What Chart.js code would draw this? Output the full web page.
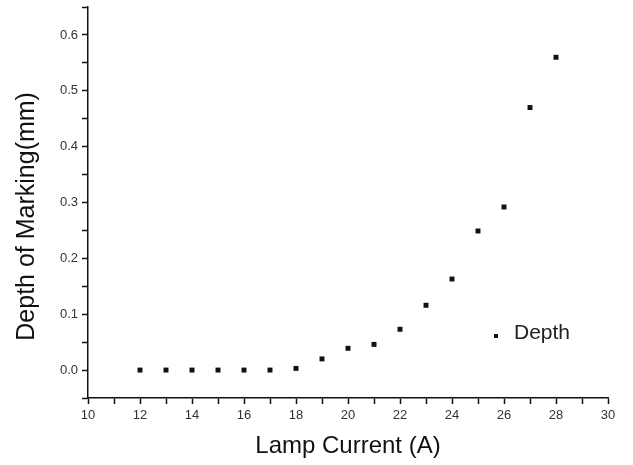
<!DOCTYPE html>
<html>
<head>
<meta charset="utf-8">
<script src="https://cdn.jsdelivr.net/npm/chart.js@4.4.1/dist/chart.umd.min.js"></script>
<style>
  html, body { margin: 0; padding: 0; background: #fff; }
  #wrap { width: 633px; height: 465px; position: relative; }
</style>
</head>
<body>
<div id="wrap"><canvas id="depthChart"></canvas></div>
<script>
// Data
const lampCurrent = [12, 13, 14, 15, 16, 17, 18, 19, 20, 21, 22, 23, 24, 25, 26, 27, 28];
const depth = [0, 0, 0, 0, 0, 0, 0.003, 0.02, 0.039, 0.046, 0.073, 0.116, 0.163, 0.249, 0.292, 0.47, 0.56];
const seriesLabel = 'Depth';
const xTitle = 'Lamp Current (A)';
// trailing spaces nudge the rotated title down a little, like the original
const yTitle = 'Depth of Marking(mm)    ';

const FONT = '"Liberation Sans", Arial, sans-serif';

// Legend box sits inside the plot, lower right
const insideLegend = {
    id: 'insideLegend',
    afterDatasetsDraw(chart) {
        const ctx = chart.ctx;
        const area = chart.chartArea;
        const x = area.left + 408;
        const y = area.top + 329;
        ctx.save();
        ctx.fillStyle = '#111';
        ctx.fillRect(x - 2, y - 2, 4, 4);
        ctx.font = '21px ' + FONT;
        ctx.textBaseline = 'middle';
        ctx.fillStyle = '#222';
        ctx.fillText(chart.data.datasets[0].label, x + 18, y - 3);
        ctx.restore();
    }
};

(function() {
    const ctx = document.getElementById('depthChart').getContext('2d');
    new Chart(ctx, {
        type: 'scatter',
        data: {
            datasets: [{
                label: seriesLabel,
                data: lampCurrent.map((c, i) => ({ x: c, y: depth[i] })),
                pointStyle: 'rect',
                pointRadius: 3.5,
                backgroundColor: '#111',
                borderColor: '#111',
                borderWidth: 0
            }]
        },
        options: {
            responsive: true,
            maintainAspectRatio: false,
            animation: false,
            layout: { padding: { left: 0, top: 7, right: 25, bottom: 0 } },
            plugins: {
                legend: { display: false },
                tooltip: { enabled: false }
            },
            scales: {
                x: {
                    type: 'linear',
                    min: 10,
                    max: 30,
                    afterFit: scale => { scale.height = 67; },
                    ticks: {
                        stepSize: 1,
                        autoSkip: false,
                        maxRotation: 0,
                        padding: 4,
                        color: '#333',
                        font: { family: FONT, size: 13 },
                        callback: v => (v % 2 === 0 ? String(v) : '')
                    },
                    grid: {
                        drawOnChartArea: false,
                        drawTicks: true,
                        tickLength: 6,
                        tickWidth: 1.5,
                        tickColor: '#111'
                    },
                    border: { display: true, color: '#111', width: 1.5 },
                    title: {
                        display: true,
                        text: xTitle,
                        color: '#111',
                        font: { family: FONT, size: 24 },
                        padding: { top: 4, bottom: 4 }
                    }
                },
                y: {
                    min: -0.05,
                    max: 0.65,
                    afterFit: scale => {
                        scale.width = 88;
                        scale.paddingTop = 0;
                        scale.paddingBottom = 0;
                    },
                    ticks: {
                        stepSize: 0.05,
                        autoSkip: false,
                        padding: 4,
                        color: '#333',
                        font: { family: FONT, size: 13 },
                        callback: v => {
                            const n = Math.round(v * 20);
                            return (n % 2 === 0 && n >= 0) ? (n / 20).toFixed(1) : '';
                        }
                    },
                    grid: {
                        drawOnChartArea: false,
                        drawTicks: true,
                        tickLength: 6,
                        tickWidth: 1.5,
                        tickColor: '#111'
                    },
                    border: { display: true, color: '#111', width: 1.5 },
                    title: {
                        display: true,
                        text: yTitle,
                        color: '#111',
                        font: { family: FONT, size: 25 },
                        padding: { top: 12, bottom: 4 }
                    }
                }
            }
        },
        plugins: [insideLegend]
    });
})();
</script>
</body>
</html>
